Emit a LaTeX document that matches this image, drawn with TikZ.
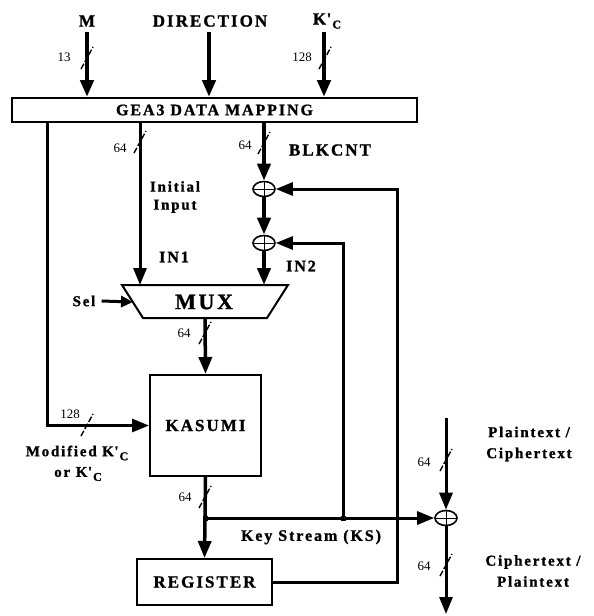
\documentclass[tikz,border=0pt]{standalone}
\usepackage{fontspec}
\setmainfont{Liberation Serif}
\newfontfamily\lbf[LetterSpace=12,FakeBold=1.2]{Liberation Serif Bold}
\usetikzlibrary{arrows.meta,shapes.geometric}
\newcommand{\kc}{K\kern0.5pt\textquotesingle\kern1pt\raisebox{-4pt}{\fontsize{12}{13}\selectfont\lbf C}}
\begin{document}
\begin{tikzpicture}[x=1pt,y=-1pt,
  wire/.style={line width=3pt},
  bigwire/.style={line width=4.5pt},
  arr/.style={-{Triangle[length=17pt,width=13pt]}},
  box/.style={draw,line width=2pt,inner sep=0pt},
  lbl/.style={font=\lbf\fontsize{17}{19}\selectfont,inner sep=1pt},
  big/.style={font=\lbf\fontsize{17}{19}\selectfont,inner sep=1pt},
  num/.style={font=\fontsize{13}{14}\selectfont,inner sep=0pt},
  bus/.style={line width=1.4pt,dash pattern=on 6pt off 2pt},
  xor/.style={ellipse,draw,line width=1.6pt,minimum width=22pt,minimum height=15pt,inner sep=0pt,
    path picture={\draw[line width=1pt] (path picture bounding box.north) -- (path picture bounding box.south)
      (path picture bounding box.west) -- (path picture bounding box.east);}},
  dot/.style={fill,minimum size=5pt,inner sep=0pt}]
\useasboundingbox (0,0) rectangle (594,616);
\newcommand{\busmark}[1]{\draw[bus,shift={(#1)}] (-6,11) -- (6,-11);}

% top inputs
\node[lbl] (m) at (87,21) {M};
\node[lbl] (dir) at (210,21) {DIRECTION};
\node[lbl] (kc) at (327,21) {\kc};
\coordinate (mt) at (87,32);
\coordinate (dt) at (209,32);
\coordinate (kt) at (324,32);

% GEA3 box
\node[box,minimum width=405pt,minimum height=24pt,font=\lbf\fontsize{16}{18}\selectfont] (gea) at (214.5,110) {GEA3 DATA MAPPING};

\draw[bigwire,arr] (mt) -- (mt |- gea.north);
\draw[bigwire,arr] (dt) -- (dt |- gea.north);
\draw[bigwire,arr] (kt) -- (kt |- gea.north);
\coordinate (s13) at (87,58);  \busmark{s13}
\node[num] (n13) at (64,57) {13};
\coordinate (s128a) at (325,58); \busmark{s128a}
\node[num] (n128a) at (302,57) {128};

% MUX
\coordinate (mtl) at (122,285);
\coordinate (mtr) at (288,285);
\coordinate (mbr) at (267,318);
\coordinate (mbl) at (143,318);
\draw[line width=2pt,line join=miter] (mtl) -- (mtr) -- (mbr) -- (mbl) -- cycle;
\node[font=\lbf\fontsize{22}{24}\selectfont,inner sep=0pt] (mux) at (204,302) {MUX};
\coordinate (in1) at (140,285);
\coordinate (in2) at (264,285);
\coordinate (mout) at (205,318);
\coordinate (sel) at (133,302);

% KASUMI and REGISTER
\node[box,minimum width=111pt,minimum height=101pt,big] (kas) at (205.5,425.5) {KASUMI};
\node[box,minimum width=135pt,minimum height=46pt,big] (reg) at (204.5,582) {REGISTER};

% XORs
\node[xor] (x1) at (264,189) {};
\node[xor] (x2) at (264,243) {};
\node[xor] (x3) at (446,518) {};

% Initial input path
\draw[wire,arr] (gea.south -| in1) -- (in1);
\coordinate (s64a) at (140,142); \busmark{s64a}
\node[num] (n64a) at (120,148) {64};
\node[font=\lbf\fontsize{15}{18}\selectfont,align=center,inner sep=0pt] (ii) at (175,197) {Initial\\Input};
\node[font=\lbf\fontsize{16}{18}\selectfont,inner sep=0pt] (lin1) at (174,257) {IN1};

% BLKCNT path
\draw[line width=4pt,arr] (gea.south -| x1) -- (x1.north);
\draw[line width=4pt,arr] (x1.south) -- (x2.north);
\draw[line width=4pt,arr] (x2.south) -- (in2);
\coordinate (s64b) at (264,143); \busmark{s64b}
\node[num] (n64b) at (245,145) {64};
\node[font=\lbf\fontsize{17}{19}\selectfont,inner sep=0pt] (blk) at (330,150) {BLKCNT};
\node[font=\lbf\fontsize{16}{18}\selectfont,inner sep=0pt] (lin2) at (301,266) {IN2};

% Sel
\node[font=\lbf\fontsize{15}{17}\selectfont,inner sep=0pt] (sell) at (84,301) {Sel};
\draw[wire,-{Triangle[length=12pt,width=11pt]}] (sell.east) ++(6,0) coordinate (sels) -- (sel);

% MUX -> KASUMI
\draw[line width=3.5pt,arr] (mout) -- (kas.north);
\coordinate (s64c) at (205,333); \busmark{s64c}
\node[num] (n64c) at (184,333) {64};

% Key input to KASUMI
\coordinate (lx) at (47,0);
\draw[wire,arr] (gea.south -| lx) |- (kas.west);
\coordinate (s128b) at (87,425); \busmark{s128b}
\node[num] (n128b) at (70,414) {128};
\node[font=\lbf\fontsize{15}{17}\selectfont,inner sep=0pt] (modk) at (77,453) {Modified \kc};
\node[font=\lbf\fontsize{15}{17}\selectfont,inner sep=0pt] (ork) at (78,474) {or \kc};

% KASUMI output, key stream
\coordinate (j1) at (205,518);
\coordinate (j2) at (343,518);
\draw[line width=3.5pt] (kas.south) -- (j1);
\coordinate (s64d) at (205,497); \busmark{s64d}
\node[num] (n64d) at (185,497) {64};
\draw[line width=3.5pt,arr] (j1) -- (reg.north);
\draw[wire,arr] (j1) -- (x3.west);
\draw[wire,arr] (j2) |- (x2.east);
\node[dot] at (j1) {};
\node[dot] at (j2) {};
\node[font=\lbf\fontsize{16}{18}\selectfont,inner sep=0pt] (ks) at (311,537) {Key Stream (KS)};

% Register feedback
\coordinate (fbx) at (397,0);
\draw[wire,arr] (reg.east) -- (reg.east -| fbx) |- (x1.east);

% Plaintext path
\coordinate (ptop) at (446,418);
\coordinate (pbot) at (446,614);
\draw[wire,arr] (ptop) -- (x3.north);
\draw[wire,arr] (x3.south) -- (pbot);
\coordinate (s64e) at (446,460); \busmark{s64e}
\node[num] (n64e) at (424,462) {64};
\coordinate (s64f) at (446,565); \busmark{s64f}
\node[num] (n64f) at (424,566) {64};
\node[font=\lbf\fontsize{15}{21}\selectfont,align=center,inner sep=0pt] (pt) at (529,444) {Plaintext /\\Ciphertext};
\node[font=\lbf\fontsize{15}{21}\selectfont,align=center,inner sep=0pt] (ct) at (533,571) {Ciphertext /\\Plaintext};
\end{tikzpicture}
\end{document}
